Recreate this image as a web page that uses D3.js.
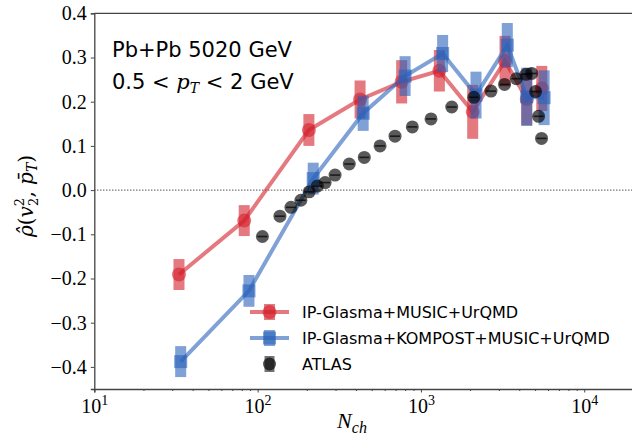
<!DOCTYPE html>
<html>
<head>
<meta charset="utf-8">
<script src="https://cdn.jsdelivr.net/npm/d3@7"></script>
<style>
  body { margin: 0; background: #fff; }
  .tick text { font-family: "Liberation Serif", serif; }
</style>
</head>
<body>
<div id="chart"></div>
<script>
// ATLAS measurement
var atlasN   = [107, 137, 160, 184, 207, 232, 259, 298, 364, 450, 562, 694, 886, 1153, 1544, 2109, 2687, 3251, 3839, 4401, 4769, 5034, 5252, 5478];
var atlasRho = [-0.105, -0.059, -0.039, -0.023, -0.004, 0.009, 0.017, 0.034, 0.059, 0.074, 0.100, 0.122, 0.143, 0.161, 0.188, 0.210, 0.224, 0.239, 0.252, 0.262, 0.264, 0.223, 0.167, 0.117];

// IP-Glasma+MUSIC+UrQMD
var ipgN   = [33.0, 82.8, 206, 424, 762, 1297, 2075, 3273, 4446, 5497];
var ipgRho = [-0.191, -0.069, 0.136, 0.205, 0.245, 0.270, 0.177, 0.292, 0.206, 0.230];
var ipgErr = [0.035, 0.035, 0.036, 0.043, 0.049, 0.047, 0.061, 0.057, 0.059, 0.051];

// IP-Glasma+KOMPOST+MUSIC+UrQMD
var kompN   = [33.8, 88.5, 219, 443, 800, 1358, 2174, 3380, 4446, 5680];
var kompRho = [-0.388, -0.228, 0.026, 0.174, 0.258, 0.309, 0.215, 0.328, 0.211, 0.209];
var kompErr = [0.035, 0.036, 0.036, 0.040, 0.045, 0.042, 0.053, 0.050, 0.066, 0.062];

var yTicks = [-0.4, -0.3, -0.2, -0.1, 0.0, 0.1, 0.2, 0.3, 0.4];
var xTicks = [10, 100, 1000, 10000];
var seriesNames = ["IP-Glasma+MUSIC+UrQMD", "IP-Glasma+KOMPOST+MUSIC+UrQMD", "ATLAS"];

var red = "#d4202c", blue = "#2a62bb";

var W = 632, H = 438;
var plotLeft = 94.3, plotTop = 13.3, plotBottom = 389;

var svg = d3.select("#chart").append("svg")
    .attr("width", W)
    .attr("height", H);

// log x axis, the plot runs off the right edge of the picture
var x = d3.scaleLog().domain([10, 20000]).range([plotLeft, 633.4]);
var y = d3.scaleLinear().domain([-0.45, 0.4]).range([plotBottom, plotTop]);

// zero line
svg.append("line")
    .attr("x1", plotLeft).attr("x2", W)
    .attr("y1", y(0)).attr("y2", y(0))
    .attr("stroke", "#000").attr("stroke-width", 1)
    .attr("stroke-dasharray", "1,2");

function drawModel(ns, vals, errs, color, square) {
    var pts = ns.map(function(n, i){ return {n: n, v: vals[i], e: errs[i]}; });
    var g = svg.append("g");

    g.selectAll("rect.err")
        .data(pts).enter().append("rect")
        .attr("x", function(d){ return x(d.n) - 5.5; })
        .attr("y", function(d){ return y(d.v + d.e); })
        .attr("width", 11)
        .attr("height", function(d){ return y(d.v - d.e) - y(d.v + d.e); })
        .attr("fill", color).attr("fill-opacity", 0.6);

    g.append("path")
        .datum(pts)
        .attr("d", d3.line().x(function(d){ return x(d.n); }).y(function(d){ return y(d.v); }))
        .attr("fill", "none").attr("stroke", color)
        .attr("stroke-width", 4).attr("stroke-opacity", 0.6);

    if (square) {
        g.selectAll("rect.mk")
            .data(pts).enter().append("rect")
            .attr("x", function(d){ return x(d.n) - 6.5; })
            .attr("y", function(d){ return y(d.v) - 6.5; })
            .attr("width", 13).attr("height", 13)
            .attr("fill", color).attr("fill-opacity", 0.6);
    } else {
        g.selectAll("circle")
            .data(pts).enter().append("circle")
            .attr("cx", function(d){ return x(d.n); })
            .attr("cy", function(d){ return y(d.v); })
            .attr("r", 7)
            .attr("fill", color).attr("fill-opacity", 0.6);
    }
}

drawModel(ipgN, ipgRho, ipgErr, red, false);
drawModel(kompN, kompRho, kompErr, blue, true);

// ATLAS points
var atlas = atlasN.map(function(n, i){ return {n: n, v: atlasRho[i]}; });
var ga = svg.append("g");
ga.selectAll("circle")
    .data(atlas).enter().append("circle")
    .attr("cx", function(d){ return x(d.n); })
    .attr("cy", function(d){ return y(d.v); })
    .attr("r", 6.5)
    .attr("fill", "#000").attr("fill-opacity", 0.65);
ga.selectAll("line")
    .data(atlas).enter().append("line")
    .attr("x1", function(d){ return x(d.n) - 5; })
    .attr("x2", function(d){ return x(d.n) + 5; })
    .attr("y1", function(d){ return y(d.v); })
    .attr("y2", function(d){ return y(d.v); })
    .attr("stroke", "#000").attr("stroke-width", 1.6).attr("stroke-opacity", 0.7);

// axes
var yAxis = d3.axisLeft(y).tickValues(yTicks).tickSize(3.5).tickPadding(4)
    .tickFormat(function(d){ return d3.format(".1f")(d).replace("-", "\u2212"); });
var gy = svg.append("g")
    .attr("transform", "translate(" + plotLeft + ",0)")
    .call(yAxis);
gy.selectAll("text").attr("font-size", 20).attr("fill", "#000");

var minor = [];
[10, 100, 1000, 10000].forEach(function(b){
    for (var k = 2; k <= 9; k++) { if (b * k <= 20000) minor.push(b * k); }
});
var xAxis = d3.axisBottom(x).tickValues(xTicks).tickSize(3.5).tickPadding(6)
    .tickFormat(function(){ return ""; });
var gx = svg.append("g")
    .attr("transform", "translate(0," + plotBottom + ")")
    .call(xAxis);
gx.selectAll(".tick text").each(function(d){
    var t = d3.select(this).attr("font-size", 20).attr("fill", "#000");
    t.append("tspan").text("10");
    t.append("tspan").attr("dy", -8).attr("font-size", 14).text(Math.round(Math.log10(d)));
});
svg.append("g")
    .attr("transform", "translate(0," + plotBottom + ")")
    .call(d3.axisBottom(x).tickValues(minor).tickSize(2).tickFormat(""))
    .select(".domain").remove();

svg.selectAll(".domain").attr("stroke", "#444").attr("stroke-width", 1.3);
svg.selectAll(".tick line").attr("stroke", "#444");

// top spine
svg.append("line")
    .attr("x1", plotLeft).attr("x2", W)
    .attr("y1", plotTop).attr("y2", plotTop)
    .attr("stroke", "#444").attr("stroke-width", 1.3);

// axis labels
var serif = "Liberation Serif, serif";
var mathFont = "DejaVu Serif, serif";
var xl = svg.append("text")
    .attr("x", 352).attr("y", 428)
    .attr("text-anchor", "middle")
    .attr("font-family", serif).attr("font-style", "italic").attr("font-size", 22);
xl.append("tspan").text("N");
xl.append("tspan").attr("dy", 5).attr("font-size", 16).text("ch");

var yl = svg.append("text")
    .attr("transform", "translate(33,196) rotate(-90)")
    .attr("text-anchor", "middle")
    .attr("font-family", mathFont).attr("font-size", 20);
yl.append("tspan").attr("font-style", "italic").text("\u03C1\u0302");
yl.append("tspan").text("(");
yl.append("tspan").attr("font-style", "italic").text("v");
yl.append("tspan").attr("font-size", 13).attr("dy", -9).text("2");
yl.append("tspan").attr("font-size", 13).attr("dx", -8).attr("dy", 14).text("2");
yl.append("tspan").attr("dy", -5).text(", ");
yl.append("tspan").attr("font-style", "italic").text("p\u0304");
yl.append("tspan").attr("font-style", "italic").attr("font-size", 14).attr("dy", 4).text("T");
yl.append("tspan").attr("dy", -4).text(")");

// annotation
var sans = "DejaVu Sans, sans-serif";
svg.append("text")
    .attr("x", 112).attr("y", 57)
    .attr("font-family", sans).attr("font-size", 21)
    .text("Pb+Pb 5020 GeV");
var a2 = svg.append("text")
    .attr("x", 112).attr("y", 89)
    .attr("font-family", sans).attr("font-size", 21);
a2.append("tspan").text("0.5 ");
a2.append("tspan").attr("font-family", mathFont).text("< ");
a2.append("tspan").attr("font-family", mathFont).attr("font-style", "italic").text("p");
a2.append("tspan").attr("font-family", mathFont).attr("font-style", "italic").attr("font-size", 14).attr("dy", 4).text("T");
a2.append("tspan").attr("font-family", mathFont).attr("dy", -4).text(" <");
a2.append("tspan").text(" 2 GeV");

// legend
var legend = svg.append("g").attr("transform", "translate(250,312)");
seriesNames.forEach(function(name, i){
    var row = legend.append("g").attr("transform", "translate(0," + (i * 26) + ")");
    if (i < 2) {
        var c = i === 0 ? red : blue;
        row.append("rect").attr("x", 14).attr("y", -8).attr("width", 11).attr("height", 16)
            .attr("fill", c).attr("fill-opacity", 0.6);
        row.append("line").attr("x1", 0).attr("x2", 39).attr("y1", 0).attr("y2", 0)
            .attr("stroke", c).attr("stroke-width", 4).attr("stroke-opacity", 0.6);
        if (i === 0) {
            row.append("circle").attr("cx", 19.5).attr("cy", 0).attr("r", 7)
                .attr("fill", c).attr("fill-opacity", 0.6);
        } else {
            row.append("rect").attr("x", 13).attr("y", -6.5).attr("width", 13).attr("height", 13)
                .attr("fill", c).attr("fill-opacity", 0.6);
        }
    } else {
        row.append("rect").attr("x", 14.5).attr("y", -8).attr("width", 10).attr("height", 16)
            .attr("fill", "#000").attr("fill-opacity", 0.55);
        row.append("circle").attr("cx", 19.5).attr("cy", 0).attr("r", 6.5)
            .attr("fill", "#000").attr("fill-opacity", 0.65);
    }
    row.append("text")
        .attr("x", 52).attr("y", 6)
        .attr("font-family", sans).attr("font-size", 16)
        .text(name);
});
</script>
</body>
</html>
